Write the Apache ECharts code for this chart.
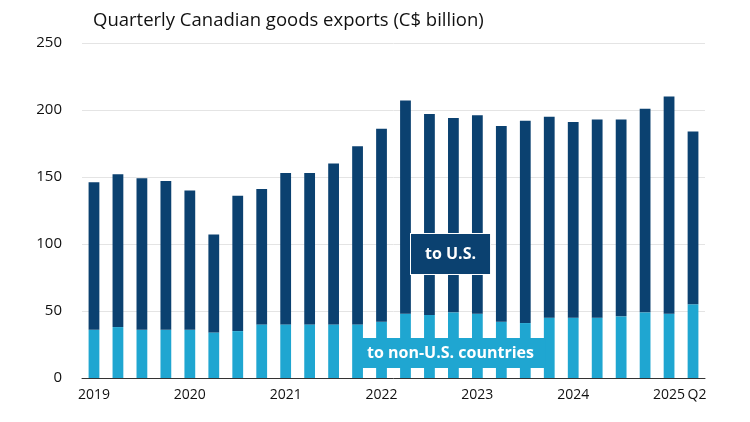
<!DOCTYPE html>
<html lang="en">
<head>
    <meta charset="UTF-8">
    <title>Exports</title>
    <style>
        body{margin:0;background:#fff;}
        #main{width:750px;height:422px;}
    </style>
</head>
<body>
<div id="main"></div>
<script src="https://cdn.jsdelivr.net/npm/echarts@6/dist/echarts.min.js"></script>
<script>
    // quarters 2019Q1 .. 2025Q2
    const quarters = [];
    for (let y = 2019; y <= 2025; y++) {
        for (let q = 1; q <= 4; q++) {
            if (y === 2025 && q > 2) break;
            quarters.push(y + 'Q' + q);
        }
    }
    const totals = [146,152,149,147,140,107,136,141,153,153,160,173,186,207,197,194,196,188,192,195,191,193,193,201,210,184];
    const nonUS = [36,38,36,36,36,34,35,40,40,40,40,40,42,48,47,49,48,42,41,45,45,45,46,49,48,55];
    const toUS = totals.map((t, i) => t - nonUS[i]);
    const yTicks = [0, 50, 100, 150, 200, 250];

    const myChart = echarts.init(document.getElementById('main'));
    const font = 'Open Sans';

    const option = {
        animation: false,
        textStyle: {fontFamily: font},
        title: {
            text: 'Quarterly Canadian goods exports (C$ billion)',
            left: 88, top: 6,
            textStyle: {fontSize: 18.5, fontWeight: 'normal', color: '#111', fontFamily: font}
        },
        grid: {left: 82, right: 45, top: 43, bottom: 44},
        xAxis: {
            type: 'category',
            data: quarters,
            axisLine: {lineStyle: {color: '#333'}},
            axisTick: {show: false},
            axisLabel: {
                interval: 0, color: '#111', fontSize: 14, margin: 10,
                formatter: function (v, i) {
                    if (i === quarters.length - 1) return '{q|Q2}';
                    return v.endsWith('Q1') ? v.slice(0, 4) : '';
                },
                rich: {q: {fontSize: 14, color: '#111', padding: [0, 0, 10, 8]}}
            }
        },
        yAxis: {
            type: 'value', min: yTicks[0], max: yTicks[yTicks.length - 1], interval: 50,
            axisLine: {show: false}, axisTick: {show: false},
            axisLabel: {color: '#111', fontSize: 15, margin: 20},
            splitLine: {lineStyle: {color: '#e4e4e4'}}
        },
        series: [
            {name: 'to non-U.S. countries', type: 'bar', stack: 'x', data: nonUS,
                barWidth: '45%', itemStyle: {color: '#1fa6d1'}},
            {name: 'to U.S.', type: 'bar', stack: 'x', data: toUS,
                itemStyle: {color: '#0b4170'}}
        ],
        graphic: [
            {type: 'text', left: 410, top: 233, z: 10,
                style: {text: 'to U.S.', fill: '#fff', font: 'bold 16px Open Sans',
                    backgroundColor: '#0b4170', borderColor: '#fff', borderWidth: 1,
                    padding: [12, 14]}},
            {type: 'text', left: 355, top: 338, z: 10,
                style: {text: 'to non-U.S. countries', fill: '#fff', font: 'bold 16px Open Sans',
                    backgroundColor: '#1fa6d1', padding: [7, 12]}}
        ]
    };
    myChart.setOption(option);
</script>
</body>
</html>
